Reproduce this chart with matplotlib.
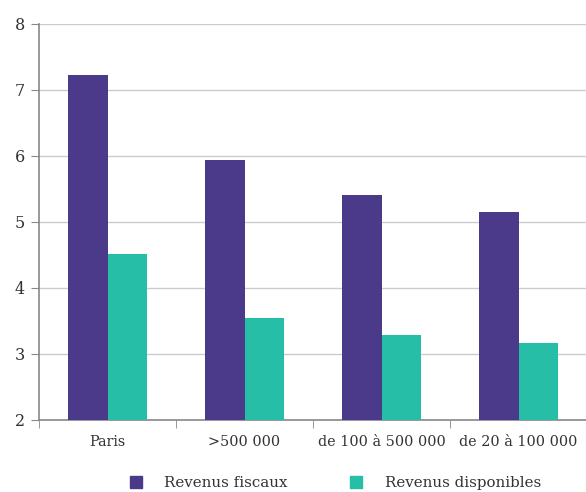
import numpy as np
import matplotlib.pyplot as plt
from matplotlib.lines import Line2D

plt.rcParams['font.family'] = ['DejaVu Serif']

categories = ['Paris', '>500 000', 'de 100 à 500 000', 'de 20 à 100 000']
revenus_fiscaux = [7.23, 5.94, 5.41, 5.15]
revenus_disponibles = [4.52, 3.55, 3.29, 3.17]
series_names = ['Revenus fiscaux', 'Revenus disponibles']

purple = '#4b398a'
teal = '#26bea6'

fig = plt.figure(figsize=(5.86, 4.92), dpi=100)
ax = fig.add_axes([39 / 586, 72 / 492, 548 / 586, 396 / 492])

x = np.arange(len(categories))
w = 0.285
ax.bar(x - w / 2, np.array(revenus_fiscaux) - 2, w, bottom=2, color=purple, zorder=3)
ax.bar(x + w / 2, np.array(revenus_disponibles) - 2, w, bottom=2, color=teal, zorder=3)

ax.set_xlim(-0.5, len(categories) - 0.5)
ax.set_ylim(2, 8)
ax.set_yticks(range(2, 9))
ax.yaxis.grid(True, color='#cccccc', linewidth=1, zorder=0)

# category labels centred, tick marks on the group boundaries
ax.set_xticks(x)
ax.set_xticklabels(categories, fontsize=10.4, color='#333333')
ax.set_xticks(np.arange(len(categories)) - 0.5, minor=True)
ax.tick_params(axis='x', which='major', length=0, pad=11)
ax.tick_params(axis='x', which='minor', length=6, color='#888888', direction='out')
ax.tick_params(axis='y', length=6, color='#888888', labelsize=11.5, labelcolor='#333333', pad=4)

for side in ['top', 'right']:
    ax.spines[side].set_visible(False)
for side in ['left', 'bottom']:
    ax.spines[side].set_color('#888888')
    ax.spines[side].set_linewidth(1.2)

handles = [Line2D([], [], marker='s', linestyle='none', markersize=8, color=c) for c in (purple, teal)]
fig.legend(handles, series_names, loc='center', bbox_to_anchor=(331 / 586, 1 - 483 / 492),
           ncol=2, frameon=False, fontsize=10.8, handletextpad=0.9, columnspacing=3.55,
           labelcolor='#333333')

fig.savefig('out.png', dpi=100)
